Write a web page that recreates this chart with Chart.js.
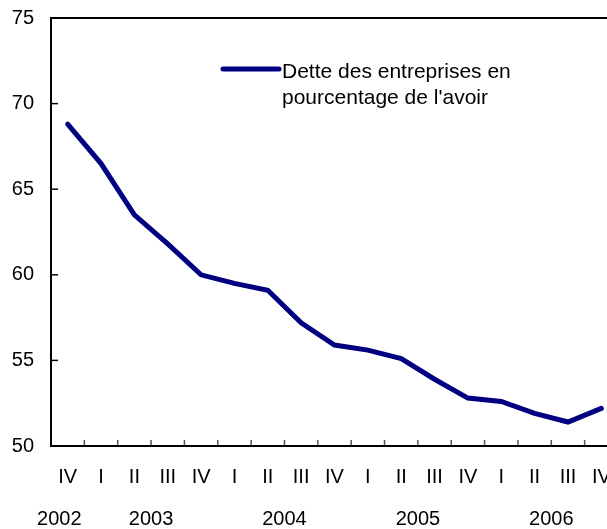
<!DOCTYPE html>
<html>
<head>
<meta charset="utf-8">
<script src="https://cdn.jsdelivr.net/npm/chart.js@4"></script>
<style>
  html, body { margin: 0; padding: 0; background: #fff; overflow: hidden; }
  #wrap { width: 640px; height: 529px; }
</style>
</head>
<body>
<div id="wrap"><canvas id="debtChart" width="640" height="529"></canvas></div>
<script>
// quarters from IV 2002 to IV 2006
const quarters = ['IV', 'I', 'II', 'III', 'IV', 'I', 'II', 'III', 'IV', 'I', 'II', 'III', 'IV', 'I', 'II', 'III', 'IV'];
const debtToEquity = [68.8, 66.5, 63.5, 61.8, 60.0, 59.5, 59.1, 57.2, 55.9, 55.6, 55.1, 53.9, 52.8, 52.6, 51.9, 51.4, 52.2];
const years = ['2002', '2003', '2004', '2005', '2006'];
const yearCenters = [-0.25, 2.5, 6.5, 10.5, 14.5]; // position in quarter index units
const seriesLabel = ['Dette des entreprises en', "pourcentage de l'avoir"];
const yMin = 50;
const yMax = 75;
const yStep = 5;

const lineColor = '#000080';
const fontFamily = '"Liberation Sans", Arial, Helvetica, sans-serif';

// frame, inward ticks, year row and legend
const frameAndLabels = {
    id: 'frameAndLabels',
    afterDraw(chart) {
        const { ctx, chartArea: area, scales: { x, y } } = chart;
        ctx.save();

        // quarter separators pointing up from the x axis
        ctx.strokeStyle = '#555';
        ctx.lineWidth = 1.5;
        for (let i = 1; i < quarters.length; i++) {
            const px = x.getPixelForValue(i - 0.5);
            ctx.beginPath();
            ctx.moveTo(px, area.bottom);
            ctx.lineTo(px, area.bottom - 6);
            ctx.stroke();
        }

        // y ticks pointing into the plot
        ctx.strokeStyle = '#000';
        for (let v = yMin; v <= yMax; v += yStep) {
            const py = y.getPixelForValue(v);
            ctx.beginPath();
            ctx.moveTo(area.left, py);
            ctx.lineTo(area.left + 7, py);
            ctx.stroke();
        }

        // frame
        ctx.lineWidth = 2;
        ctx.strokeRect(area.left, area.top, area.right - area.left, area.bottom - area.top);

        // year row
        ctx.font = '20px ' + fontFamily;
        ctx.fillStyle = '#000';
        ctx.textAlign = 'center';
        ctx.textBaseline = 'middle';
        years.forEach((yr, i) => {
            ctx.fillText(yr, x.getPixelForValue(yearCenters[i]), area.bottom + 73);
        });

        // legend
        const lx = area.left + 172;
        const ly = area.top + 51;
        ctx.strokeStyle = lineColor;
        ctx.lineWidth = 5;
        ctx.lineCap = 'round';
        ctx.beginPath();
        ctx.moveTo(lx, ly);
        ctx.lineTo(lx + 56, ly);
        ctx.stroke();
        ctx.font = '21px ' + fontFamily;
        ctx.textAlign = 'left';
        ctx.textBaseline = 'alphabetic';
        seriesLabel.forEach((t, i) => {
            ctx.fillText(t, lx + 59, ly + 9 + i * 25.5);
        });

        ctx.restore();
    }
};

new Chart(document.getElementById('debtChart'), {
    type: 'line',
    data: {
        labels: quarters,
        datasets: [{
            label: seriesLabel.join(' '),
            data: debtToEquity,
            borderColor: lineColor,
            borderWidth: 5,
            borderCapStyle: 'round',
            pointRadius: 0,
            tension: 0,
            fill: false
        }]
    },
    options: {
        responsive: false,
        animation: false,
        devicePixelRatio: 1,
        layout: { padding: { top: 18, right: 22, bottom: 0, left: 0 } },
        plugins: {
            legend: { display: false },
            tooltip: { enabled: false }
        },
        scales: {
            x: {
                offset: true,
                grid: { display: false, drawTicks: false },
                border: { display: false },
                ticks: {
                    color: '#000',
                    font: { size: 20, family: fontFamily },
                    padding: 19.5,
                    maxRotation: 0,
                    autoSkip: false
                },
                afterFit(scale) {
                    scale.height = 83;
                    scale.paddingLeft = 0;
                    scale.paddingRight = 0;
                }
            },
            y: {
                min: yMin,
                max: yMax,
                grid: { display: false, drawTicks: false },
                border: { display: false },
                ticks: {
                    stepSize: yStep,
                    color: '#000',
                    font: { size: 20, family: fontFamily },
                    padding: 17
                },
                afterFit(scale) {
                    scale.width = 51;
                    scale.paddingTop = 0;
                    scale.paddingBottom = 0;
                }
            }
        }
    },
    plugins: [frameAndLabels]
});
</script>
</body>
</html>
